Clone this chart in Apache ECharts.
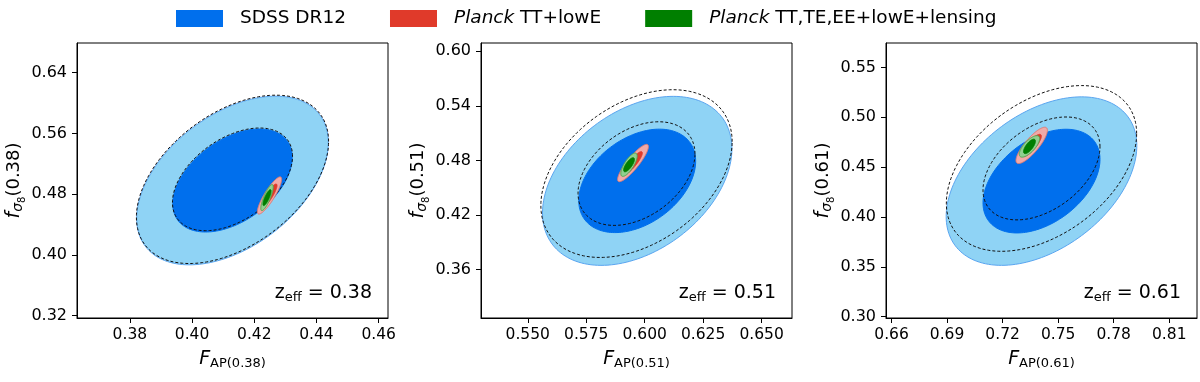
<!DOCTYPE html>
<html>
<head>
<meta charset="utf-8">
<script src="https://cdn.jsdelivr.net/npm/echarts@6/dist/echarts.min.js"></script>
<style>
  html, body { margin: 0; background: #fff; }
  #chart { width: 1200px; height: 382px; }
</style>
</head>
<body>
<div id="chart"></div>
<script>
// redshift of each panel
const zEff = ['0.38', '0.51', '0.61'];

// axis ranges + ticks
const xMin = [0.363, 0.530, 0.657];
const xMax = [0.463, 0.663, 0.825];
const yMin = [0.317, 0.307, 0.2987];
const yMax = [0.679, 0.609, 0.5745];
const xTicks = [[0.38, 0.40, 0.42, 0.44, 0.46], [0.550, 0.575, 0.600, 0.625, 0.650], [0.66, 0.69, 0.72, 0.75, 0.78, 0.81]];
const yTicks = [[0.32, 0.40, 0.48, 0.56, 0.64], [0.36, 0.42, 0.48, 0.54, 0.60], [0.30, 0.35, 0.40, 0.45, 0.50, 0.55]];
const xDigits = [2, 3, 2];

// contours: centre, half extents of the 68% and 95% contour, correlation
const sdssCenter = [[0.413, 0.498], [0.5968, 0.4576], [0.741, 0.436]];
const sdssHalf68 = [[0.0192, 0.0678], [0.025, 0.0568], [0.0316, 0.052]];
const sdssHalf95 = [[0.0308, 0.111], [0.0405, 0.0928], [0.0515, 0.0845]];
const sdssRho = [0.45, 0.38, 0.42];

const dashCenter = [[0.413, 0.4995], [0.5965, 0.4656], [0.741, 0.4487]];
const dashHalf68 = [[0.0193, 0.0676], [0.025, 0.0569], [0.0316, 0.0516]];
const dashHalf95 = [[0.0309, 0.1108], [0.0409, 0.0921], [0.0514, 0.0831]];
const dashRho = [0.45, 0.38, 0.42];

const ttCenter = [[0.4249, 0.4783], [0.5950, 0.4772], [0.7357, 0.4718]];
const ttHalf68 = [[0.0024, 0.0150], [0.0040, 0.0125], [0.0052, 0.0111]];
const ttHalf95 = [[0.0039, 0.0245], [0.0066, 0.0205], [0.0085, 0.0182]];
const ttRho = [0.87, 0.88, 0.83];

const lensCenter = [[0.4241, 0.4755], [0.5933, 0.4753], [0.7345, 0.4708]];
const lensHalf68 = [[0.0013, 0.0105], [0.0023, 0.0077], [0.0032, 0.0072]];
const lensHalf95 = [[0.0020, 0.0172], [0.0035, 0.0128], [0.0055, 0.0108]];
const lensRho = [0.82, 0.75, 0.72];

const FONT = 'DejaVu Sans';
const gridLeft = [77, 481, 886];

const sets = {
  sdss: { center: sdssCenter, h68: sdssHalf68, h95: sdssHalf95, rho: sdssRho,
    outer: '#8fd3f5', inner: '#006fed', edge: '#5aa5f0', legend: '#006fed' },
  tt: { center: ttCenter, h68: ttHalf68, h95: ttHalf95, rho: ttRho,
    outer: '#f0aaa8', inner: '#e03a2a', edge: '#e07a72', legend: '#e03a2a' },
  lens: { center: lensCenter, h68: lensHalf68, h95: lensHalf95, rho: lensRho,
    outer: '#90d090', inner: '#007f00', edge: '#4fa84f', legend: '#007f00' }
};

function ellipsePoints(api, c, h, rho) {
  const pts = [];
  const s = Math.sqrt(1 - rho * rho);
  for (let i = 0; i < 160; i++) {
    const t = i / 160 * 2 * Math.PI;
    pts.push(api.coord([c[0] + h[0] * Math.cos(t), c[1] + h[1] * (rho * Math.cos(t) + s * Math.sin(t))]));
  }
  return pts;
}

function contourSeries(name, p, set) {
  return {
    type: 'custom', name: name, xAxisIndex: p, yAxisIndex: p,
    silent: true, animation: false,
    itemStyle: { color: set.legend },
    data: [[set.center[p][0], set.center[p][1]]],
    renderItem: (params, api) => ({
      type: 'group',
      children: [
        { type: 'polygon', shape: { points: ellipsePoints(api, set.center[p], set.h95[p], set.rho[p]) },
          style: { fill: set.outer, stroke: set.edge, lineWidth: 1 } },
        { type: 'polygon', shape: { points: ellipsePoints(api, set.center[p], set.h68[p], set.rho[p]) },
          style: { fill: set.inner, stroke: set.inner, lineWidth: 1 } }
      ]
    })
  };
}

function dashedSeries(p) {
  return {
    type: 'custom', xAxisIndex: p, yAxisIndex: p,
    silent: true, animation: false,
    data: [[dashCenter[p][0], dashCenter[p][1]]],
    renderItem: (params, api) => ({
      type: 'group',
      children: [dashHalf95, dashHalf68].map(h => ({
        type: 'polygon',
        shape: { points: ellipsePoints(api, dashCenter[p], h[p], dashRho[p]) },
        style: { fill: 'none', stroke: '#111', lineWidth: 1, lineDash: [3, 2] }
      }))
    })
  };
}

const grids = [], xAxes = [], yAxes = [], series = [], texts = [];
for (let p = 0; p < 3; p++) {
  grids.push({ left: gridLeft[p], top: 43, width: 311, height: 275,
    show: true, borderColor: '#000', borderWidth: 1 });
  xAxes.push({
    type: 'value', gridIndex: p, min: xMin[p], max: xMax[p],
    name: '{f|F}{s|AP(' + zEff[p] + ')}', nameLocation: 'middle', nameGap: 30,
    nameTextStyle: { fontFamily: FONT, color: '#000',
      rich: { f: { fontFamily: FONT, fontSize: 19, fontStyle: 'italic', color: '#000' },
              s: { fontFamily: FONT, fontSize: 13, color: '#000', padding: [9, 0, 0, 0] } } },
    axisLine: { show: true, onZero: false, lineStyle: { color: '#000', width: 1 } },
    axisTick: { show: true, length: 5, customValues: xTicks[p], lineStyle: { color: '#000' } },
    axisLabel: { customValues: xTicks[p], margin: 9, color: '#000', fontFamily: FONT, fontSize: 15.5,
      formatter: v => v.toFixed(xDigits[p]) },
    splitLine: { show: false }
  });
  yAxes.push({
    type: 'value', gridIndex: p, min: yMin[p], max: yMax[p],
    name: '{f|f}{s|σ}{ss|8}{n|(' + zEff[p] + ')}', nameLocation: 'middle', nameGap: 50, nameRotate: 90,
    nameTextStyle: { fontFamily: FONT, color: '#000',
      rich: { f: { fontFamily: FONT, fontSize: 19, fontStyle: 'italic', color: '#000' },
              s: { fontFamily: FONT, fontSize: 14, fontStyle: 'italic', color: '#000', padding: [7, 0, 0, 0] },
              ss: { fontFamily: FONT, fontSize: 10, color: '#000', padding: [15, 0, 0, 0] },
              n: { fontFamily: FONT, fontSize: 18, color: '#000' } } },
    axisLine: { show: true, onZero: false, lineStyle: { color: '#000', width: 1 } },
    axisTick: { show: true, length: 5, customValues: yTicks[p], lineStyle: { color: '#000' } },
    axisLabel: { customValues: yTicks[p], margin: 10, color: '#000', fontFamily: FONT, fontSize: 16,
      formatter: v => v.toFixed(2) },
    splitLine: { show: false }
  });
  series.push(contourSeries('SDSS DR12', p, sets.sdss));
  series.push(dashedSeries(p));
  series.push(contourSeries('Planck TT+lowE', p, sets.tt));
  series.push(contourSeries('Planck TT,TE,EE+lowE+lensing', p, sets.lens));
  texts.push({
    type: 'text', right: 1200 - (gridLeft[p] + 311 - 16), top: 284,
    style: { text: '{z|z}{s|eff} = ' + zEff[p], fontFamily: FONT, fontSize: 19, fill: '#000',
      rich: { z: { fontFamily: FONT, fontSize: 19 }, s: { fontFamily: FONT, fontSize: 13, padding: [9, 0, 0, 0] } } }
  });
}

const chart = echarts.init(document.getElementById('chart'), null, { renderer: 'canvas' });
chart.setOption({
  animation: false,
  backgroundColor: '#fff',
  legend: {
    data: ['SDSS DR12', 'Planck TT+lowE', 'Planck TT,TE,EE+lowE+lensing'],
    left: 171, top: 4, icon: 'rect', itemWidth: 47, itemHeight: 17, itemGap: 44,
    selectedMode: false,
    formatter: name => name.startsWith('Planck') ? '{i|Planck}' + name.slice(6) : name,
    textStyle: { fontFamily: FONT, fontSize: 18.5, color: '#000', padding: [0, 0, 0, 12],
      rich: { i: { fontFamily: FONT, fontSize: 18.5, fontStyle: 'italic', color: '#000' } } }
  },
  grid: grids,
  xAxis: xAxes,
  yAxis: yAxes,
  series: series,
  graphic: texts
});
</script>
</body>
</html>
